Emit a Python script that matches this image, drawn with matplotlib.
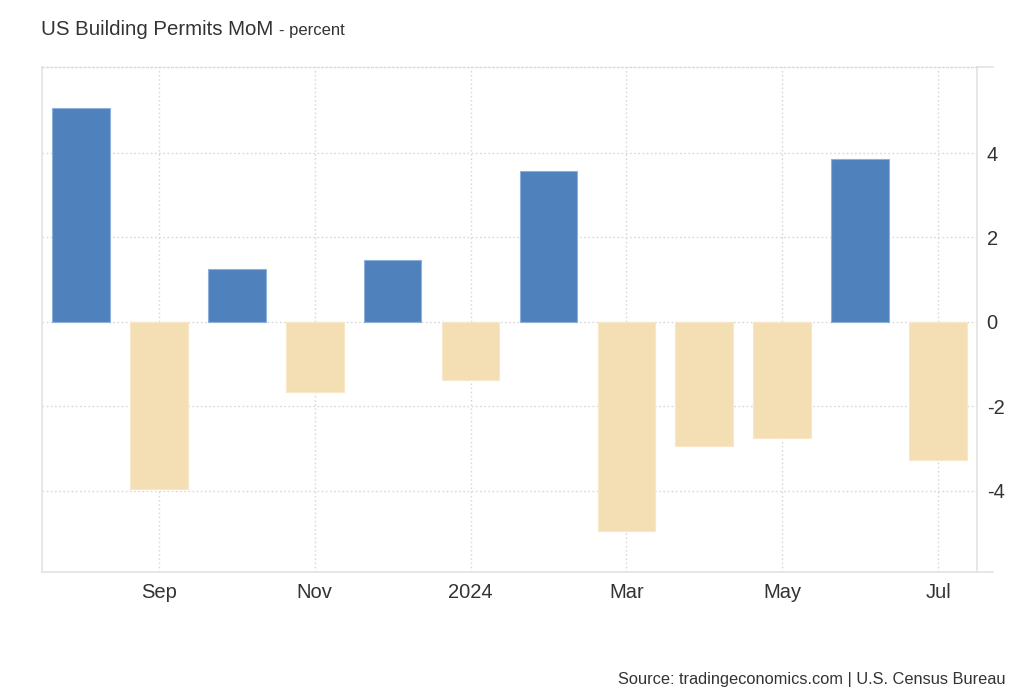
import matplotlib
matplotlib.use("Agg")
import matplotlib.pyplot as plt

plt.rcParams['font.family'] = ['Liberation Sans', 'DejaVu Sans']

months = ["Aug", "Sep", "Oct", "Nov", "Dec", "Jan", "Feb", "Mar", "Apr", "May", "Jun", "Jul"]
values = [5.06, -3.97, 1.26, -1.66, 1.47, -1.38, 3.58, -4.95, -2.95, -2.76, 3.86, -3.28]
tick_idx = [1, 3, 5, 7, 9, 11]
tick_labels = ["Sep", "Nov", "2024", "Mar", "May", "Jul"]
y_ticks = [-4, -2, 0, 2, 4]

POS = "#4f81bd"
NEG = "#f4deb3"
GRID = "#d9d9d9"
SPINE = "#e3e3e3"
TXT = "#333333"

fig = plt.figure(figsize=(10.24, 7.0), dpi=100)
ax = fig.add_axes([42/1024, 1 - 572/700, (977-42)/1024, (572-67)/700])

x = list(range(len(values)))
colors = [POS if v >= 0 else NEG for v in values]
edges = ["#8fb0d8" if v >= 0 else "#f8e8c8" for v in values]
ax.bar(x, values, width=0.74, color=colors, edgecolor=edges, linewidth=0.8, zorder=3)

ax.set_xlim(-0.5, len(values) - 0.5)
ax.set_ylim(-5.93, 6.04)

ax.set_xticks(tick_idx)
ax.set_xticklabels(tick_labels)
ax.set_yticks(y_ticks)
ax.set_yticklabels([str(t) for t in y_ticks])
ax.yaxis.tick_right()
ax.tick_params(axis='both', length=0, labelsize=14.5, colors=TXT)
ax.tick_params(axis='x', pad=8)
ax.tick_params(axis='y', pad=7)

ax.grid(True, color=GRID, linestyle=(0, (1.2, 1.8)), linewidth=1.0, zorder=0)

for s in ["left", "bottom", "right"]:
    ax.spines[s].set_color(SPINE)
    ax.spines[s].set_linewidth(1.2)
ax.spines["top"].set_color(GRID)
ax.spines["top"].set_linestyle((0, (1.2, 1.8)))
ax.spines["top"].set_linewidth(1.0)

# small extensions of top/bottom lines past the right axis
ax.plot([1, 1.017], [1, 1], transform=ax.transAxes, color=SPINE, lw=1.2, clip_on=False)
ax.plot([1, 1.017], [0, 0], transform=ax.transAxes, color=SPINE, lw=1.2, clip_on=False)

t1 = fig.text(41/1024, 1 - 35/700, "US Building Permits MoM", fontsize=14.7, color=TXT, va='baseline')
fig.canvas.draw()
bb = t1.get_window_extent(renderer=fig.canvas.get_renderer())
fig.text((bb.x1 + 6)/1024, 1 - 35/700, "- percent", fontsize=12, color=TXT, va='baseline')

fig.text(1006/1024, 1 - 684/700, "Source: tradingeconomics.com | U.S. Census Bureau",
         fontsize=11.8, color=TXT, ha='right', va='baseline')

fig.savefig("out.png", dpi=100, facecolor="white")
